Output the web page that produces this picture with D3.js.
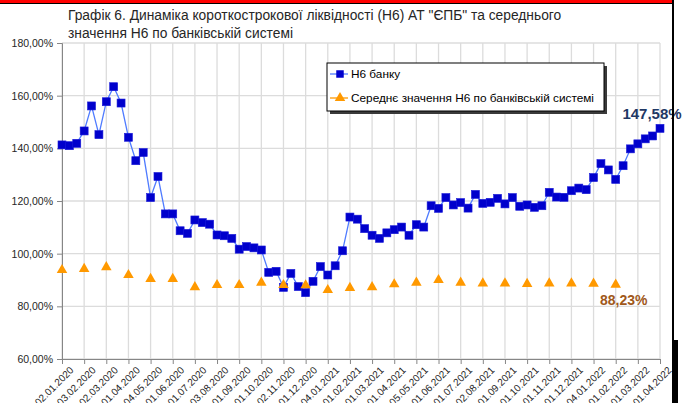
<!DOCTYPE html>
<html>
<head>
<meta charset="utf-8">
<script src="https://cdn.jsdelivr.net/npm/d3@7"></script>
<style>
  body { margin: 0; background: #fff; }
  svg { display: block; font-family: "Liberation Sans", Arial, sans-serif; }
</style>
</head>
<body>
<div id="chart"></div>
<script>
// chart size
var svgWidth = 691;
var svgHeight = 403;

var plot = { left: 62, right: 660, top: 43, bottom: 359 };

// data
var monthLabels = ["02.01.2020", "03.02.2020", "02.03.2020", "01.04.2020", "04.05.2020", "01.06.2020",
  "01.07.2020", "03.08.2020", "01.09.2020", "01.10.2020", "02.11.2020", "01.12.2020",
  "04.01.2021", "01.02.2021", "01.03.2021", "01.04.2021", "05.05.2021", "01.06.2021",
  "01.07.2021", "02.08.2021", "01.09.2021", "01.10.2021", "01.11.2021", "01.12.2021",
  "04.01.2022", "01.02.2022", "01.03.2022", "01.04.2022"];

// Н6 банку (three readings a month)
var bankValues = [141.3, 141.0, 141.9, 146.6, 156.1, 145.2, 157.7, 163.4, 157.2, 144.2,
  135.3, 138.4, 121.3, 129.3, 115.1, 115.1, 108.7, 107.7, 112.8, 111.8,
  111.2, 107.1, 106.8, 105.8, 101.7, 102.7, 102.2, 101.4, 92.9, 93.3,
  87.2, 92.5, 87.5, 85.2, 89.5, 95.1, 91.9, 95.4, 101.1, 113.9,
  113.1, 109.5, 107.0, 105.8, 107.9, 109.1, 110.1, 107.0, 111.0, 110.1,
  118.2, 117.2, 121.3, 118.5, 119.4, 117.3, 122.5, 119.1, 119.5, 121.0,
  118.9, 121.3, 118.0, 118.5, 117.6, 118.2, 123.3, 121.5, 121.4, 123.9,
  124.9, 124.3, 128.9, 134.2, 131.8, 128.2, 133.4, 139.8, 141.7, 143.6,
  144.7, 147.58];

// Середнє значення Н6 по банківській системі (monthly)
var systemValues = [93.8, 94.2, 94.9, 91.9, 90.4, 90.4, 87.3, 88.1, 88.1, 89.0,
  88.1, 88.0, 86.2, 87.0, 87.3, 88.4, 89.0, 90.0, 89.0, 88.7,
  88.7, 88.5, 88.7, 88.7, 88.6, 88.23];

var yTicks = [60, 80, 100, 120, 140, 160, 180];

var pct = function(v) { return d3.format(".2f")(v).replace(".", ",") + "%"; };

var svg = d3.select("#chart")
  .append("svg")
  .attr("width", svgWidth)
  .attr("height", svgHeight);

// scales
var xScale = d3.scalePoint()
  .domain(d3.range(bankValues.length))
  .range([plot.left, plot.right]);

var yScale = d3.scaleLinear()
  .domain([60, 180])
  .range([plot.bottom, plot.top]);

var monthIndex = function(m) { return m * 3; };

// grid
svg.append("g")
  .selectAll("line")
  .data(yTicks)
  .enter()
  .append("line")
  .attr("x1", plot.left)
  .attr("x2", plot.right)
  .attr("y1", d => yScale(d))
  .attr("y2", d => yScale(d))
  .attr("stroke", "#dcdcdc")
  .attr("stroke-width", 1.3);

svg.append("g")
  .selectAll("line")
  .data(monthLabels)
  .enter()
  .append("line")
  .attr("x1", (d, i) => xScale(monthIndex(i)))
  .attr("x2", (d, i) => xScale(monthIndex(i)))
  .attr("y1", plot.top)
  .attr("y2", plot.bottom)
  .attr("stroke", "#dcdcdc")
  .attr("stroke-width", 1.3);

// axes
var leftAxis = d3.axisLeft(yScale)
  .tickValues(yTicks)
  .tickFormat(pct)
  .tickSize(5)
  .tickPadding(4);

var yAxisG = svg.append("g")
  .attr("transform", `translate(${plot.left}, 0)`)
  .call(leftAxis);
yAxisG.select(".domain").attr("stroke", "#868686");
yAxisG.selectAll(".tick line").attr("stroke", "#868686");
yAxisG.selectAll("text")
  .attr("fill", "#262626")
  .style("font-family", "'Liberation Sans', Arial, sans-serif")
  .attr("font-size", "10.5px");

var bottomAxis = d3.axisBottom(xScale)
  .tickValues(monthLabels.map((d, i) => monthIndex(i)))
  .tickFormat(i => monthLabels[i / 3])
  .tickSize(5)
  .tickSizeOuter(0);

var xAxisG = svg.append("g")
  .attr("transform", `translate(0, ${plot.bottom})`)
  .call(bottomAxis);
xAxisG.select(".domain").attr("stroke", "#868686");
xAxisG.selectAll(".tick line").attr("stroke", "#868686");
xAxisG.selectAll("text")
  .attr("fill", "#262626")
  .style("font-family", "'Liberation Sans', Arial, sans-serif")
  .attr("font-size", "10px")
  .attr("text-anchor", "end")
  .attr("dy", "0.3em")
  .attr("transform", "translate(4, 4) rotate(-45)");

// Н6 банку line
var line = d3.line()
  .x((d, i) => xScale(i))
  .y(d => yScale(d));

svg.append("path")
  .datum(bankValues)
  .attr("fill", "none")
  .attr("stroke", "#4f7bff")
  .attr("stroke-width", 1.3)
  .attr("d", line);

svg.append("g")
  .selectAll("rect")
  .data(bankValues)
  .enter()
  .append("rect")
  .attr("x", (d, i) => xScale(i) - 4)
  .attr("y", d => yScale(d) - 4)
  .attr("width", 8)
  .attr("height", 8)
  .attr("fill", "#0000cc")
  .attr("stroke", "#1a1ad9")
  .attr("stroke-width", 0.6);

// system average markers
var triangle = d3.symbol().type(d3.symbolTriangle).size(48);

svg.append("g")
  .selectAll("path")
  .data(systemValues)
  .enter()
  .append("path")
  .attr("d", triangle)
  .attr("transform", (d, i) => `translate(${xScale(monthIndex(i))}, ${yScale(d)})`)
  .attr("fill", "#ff9900");

// end labels
var lastBank = bankValues.length - 1;
svg.append("text")
  .attr("x", xScale(lastBank) - 8)
  .attr("y", yScale(bankValues[lastBank]) - 9)
  .attr("text-anchor", "middle")
  .attr("font-weight", "bold")
  .attr("font-size", "15px")
  .attr("fill", "#1f3864")
  .text(pct(bankValues[lastBank]));

var lastSys = systemValues.length - 1;
svg.append("text")
  .attr("x", xScale(monthIndex(lastSys)) + 8)
  .attr("y", yScale(systemValues[lastSys]) + 20)
  .attr("text-anchor", "middle")
  .attr("font-weight", "bold")
  .attr("font-size", "14px")
  .attr("fill", "#a0581a")
  .text(pct(systemValues[lastSys]));

// legend
var legend = svg.append("g").attr("transform", "translate(327, 63)");
legend.append("rect")
  .attr("x", 3).attr("y", 3)
  .attr("width", 277).attr("height", 48)
  .attr("fill", "#3a3a3a");
legend.append("rect")
  .attr("width", 277).attr("height", 48)
  .attr("fill", "#fff")
  .attr("stroke", "#000")
  .attr("stroke-width", 1);

var legendItems = [
  { name: "Н6 банку", color: "#4f7bff", mark: "square" },
  { name: "Середнє значення Н6 по банківській системі", color: "#ff9900", mark: "triangle" }
];

var items = legend.selectAll("g.item")
  .data(legendItems)
  .enter()
  .append("g")
  .attr("transform", (d, i) => `translate(3, ${11 + i * 24})`);

items.append("line")
  .attr("x1", 0).attr("x2", 18)
  .attr("stroke", d => d.color)
  .attr("stroke-width", 1.3);

items.append("path")
  .attr("transform", "translate(10, 0)")
  .attr("d", d => d.mark === "square"
    ? d3.symbol().type(d3.symbolSquare).size(56)()
    : d3.symbol().type(d3.symbolTriangle).size(48)())
  .attr("fill", d => d.mark === "square" ? "#0000cc" : "#ff9900");

items.append("text")
  .attr("x", 21)
  .attr("dy", "0.35em")
  .attr("font-size", "11.8px")
  .attr("fill", "#000")
  .text(d => d.name);

// title
var title = svg.append("text")
  .attr("x", 68)
  .attr("font-size", "13.8px")
  .attr("fill", "#262626");
title.append("tspan").attr("x", 68).attr("y", 20)
  .text("Графік 6.  Динаміка короткострокової  ліквідності (Н6) АТ \"ЄПБ\" та середнього");
title.append("tspan").attr("x", 68).attr("y", 38)
  .text("значення Н6 по банківській системі");

// frame
svg.append("rect").attr("x", 0).attr("y", 0).attr("width", 674).attr("height", 3).attr("fill", "#ff0000");
svg.append("rect").attr("x", 0).attr("y", 3).attr("width", 674).attr("height", 1).attr("fill", "#000");
svg.append("rect").attr("x", 672).attr("y", 0).attr("width", 2).attr("height", 340).attr("fill", "#000");
svg.append("rect").attr("x", 672).attr("y", 340).attr("width", 6).attr("height", 63).attr("fill", "#000");
</script>
</body>
</html>
